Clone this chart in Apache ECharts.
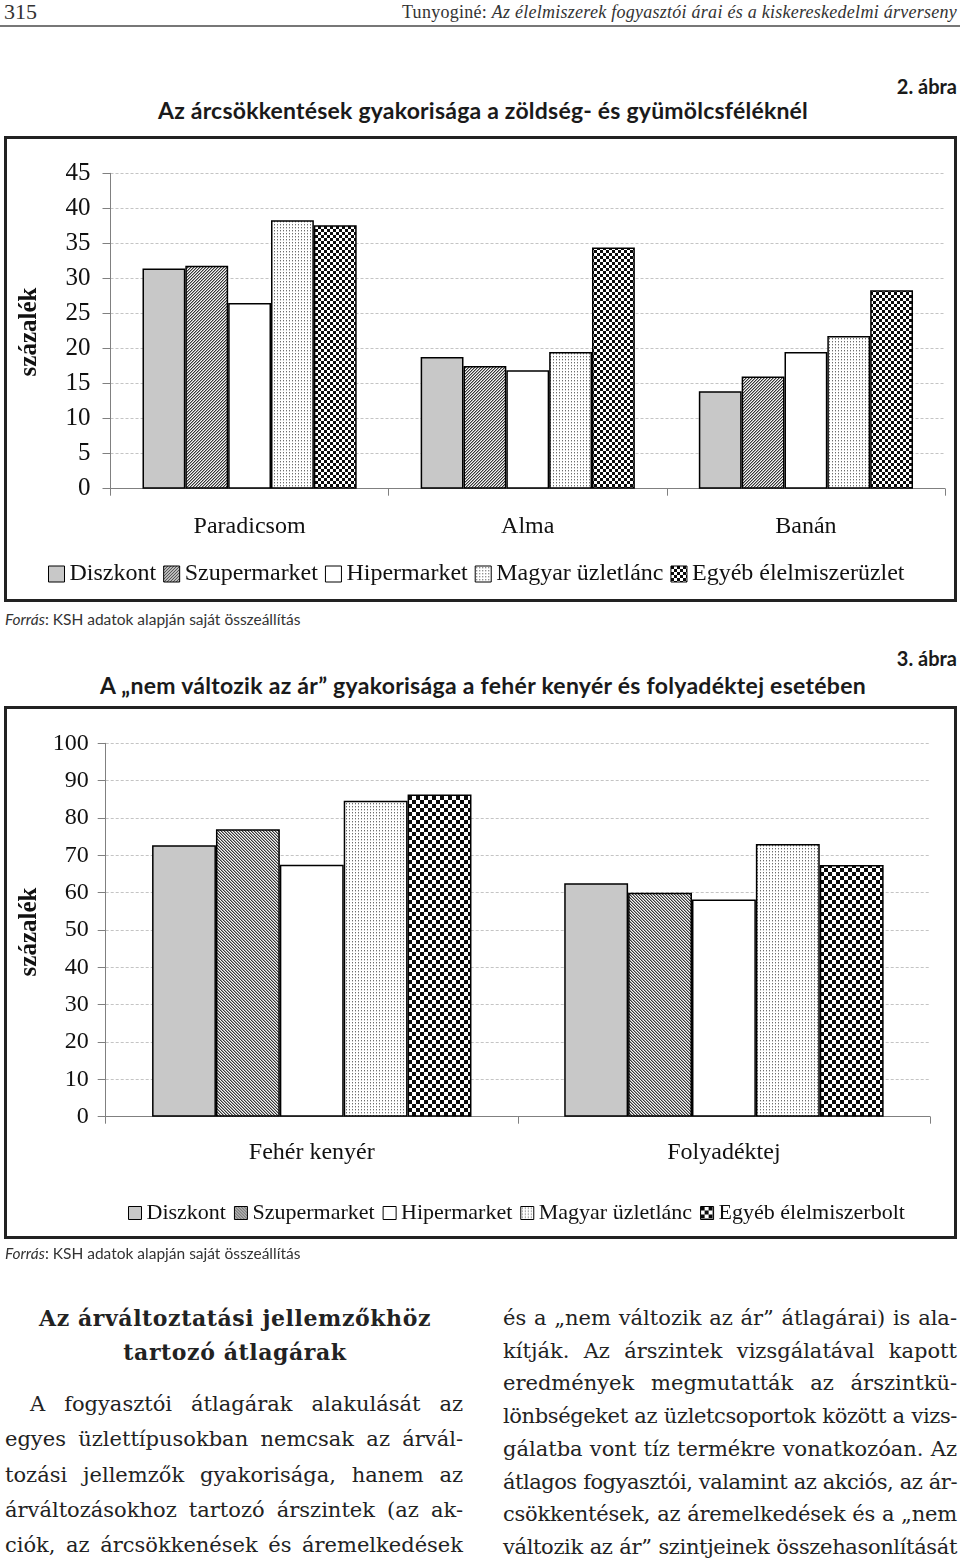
<!DOCTYPE html>
<html><head><meta charset="utf-8">
<script src="https://cdn.jsdelivr.net/npm/echarts@6/dist/echarts.min.js"></script>
<style>
html,body{margin:0;padding:0;background:#fff;}
body{width:960px;height:1563px;position:relative;overflow:hidden;}
.abs{position:absolute;white-space:nowrap;}
.ttl{font-family:Lato,'Open Sans',sans-serif;font-weight:bold;color:#1a1a1a;line-height:26px;}
.src{font-family:Lato,sans-serif;font-size:15.5px;color:#333;line-height:18px;}
.col{position:absolute;font-family:'DejaVu Serif',serif;color:#222;}
.col div{white-space:nowrap;text-align:justify;text-align-last:justify;}
.col div.c{text-align:center;text-align-last:center;}
</style></head><body>

<div class="abs" style="left:4px;top:0;font:22px 'Liberation Serif',serif;color:#333;line-height:24px">315</div>
<div class="abs fit" data-w="555" style="right:3px;top:1px;font:18px 'Liberation Serif',serif;color:#333;line-height:22px">Tunyoginé: <i>Az élelmiszerek fogyasztói árai és a kiskereskedelmi árverseny</i></div>
<div style="position:absolute;left:0;top:25px;width:960px;height:2px;background:#777"></div>

<div class="abs ttl" style="right:3px;top:73px;font-size:20px">2. ábra</div>
<div class="abs ttl" style="left:0;width:966px;text-align:center;top:97px;font-size:23px"><span class="fit" data-w="650">Az árcsökkentések gyakorisága a zöldség- és gyümölcsféléknél</span></div>

<div id="c1" style="position:absolute;left:0;top:130px;width:960px;height:480px"></div>
<div class="abs src" style="left:5px;top:610px"><i>Forrás</i>: KSH adatok alapján saját összeállítás</div>

<div class="abs ttl" style="right:3px;top:645px;font-size:20px">3. ábra</div>
<div class="abs ttl" style="left:0;width:966px;text-align:center;top:672px;font-size:23px"><span class="fit" data-w="766">A „nem változik az ár” gyakorisága a fehér kenyér és folyadéktej esetében</span></div>

<div id="c2" style="position:absolute;left:0;top:700px;width:960px;height:545px"></div>
<div class="abs src" style="left:5px;top:1244px"><i>Forrás</i>: KSH adatok alapján saját összeállítás</div>

<div class="col" style="left:5px;top:1301px;width:460px;font-size:22px;font-weight:bold;line-height:34px">
<div class="c"><span class="fit" data-w="392" id="h1">Az árváltoztatási jellemzőkhöz</span></div>
<div class="c"><span id="h2">tartozó átlagárak</span></div>
</div>
<div class="col body" style="left:5px;top:1387px;width:458px;font-size:21px;line-height:35.25px">
<div style="padding-left:25px" data-ind="25">A fogyasztói átlagárak alakulását az</div>
<div>egyes üzlettípusokban nemcsak az árvál-</div>
<div>tozási jellemzők gyakorisága, hanem az</div>
<div>árváltozásokhoz tartozó árszintek (az ak-</div>
<div>ciók, az árcsökkenések és áremelkedések</div>
</div>
<div class="col body" style="left:503px;top:1302px;width:454px;font-size:21px;line-height:32.7px">
<div>és a „nem változik az ár” átlagárai) is ala-</div>
<div>kítják. Az árszintek vizsgálatával kapott</div>
<div>eredmények megmutatták az árszintkü-</div>
<div>lönbségeket az üzletcsoportok között a vizs-</div>
<div>gálatba vont tíz termékre vonatkozóan. Az</div>
<div>átlagos fogyasztói, valamint az akciós, az ár-</div>
<div>csökkentések, az áremelkedések és a „nem</div>
<div>változik az ár” szintjeinek összehasonlítását</div>
</div>

<script>
// ---------- Data: figure 2 ----------
const cats1 = ['Paradicsom', 'Alma', 'Banán'];
const names1 = ['Diszkont', 'Szupermarket', 'Hipermarket', 'Magyar üzletlánc', 'Egyéb élelmiszerüzlet'];
const diszkont1 = [31.4, 18.8, 13.9];
const szuper1 = [31.8, 17.5, 16.0];
const hiper1 = [26.5, 16.9, 19.5];
const magyar1 = [38.3, 19.5, 21.8];
const egyeb1 = [37.6, 34.4, 28.3];
const yMax1 = 45, yStep1 = 5;

// ---------- Data: figure 3 ----------
const cats2 = ['Fehér kenyér', 'Folyadéktej'];
const names2 = ['Diszkont', 'Szupermarket', 'Hipermarket', 'Magyar üzletlánc', 'Egyéb élelmiszerbolt'];
const diszkont2 = [72.7, 62.5];
const szuper2 = [77.0, 60.0];
const hiper2 = [67.5, 58.2];
const magyar2 = [84.6, 73.0];
const egyeb2 = [86.3, 67.4];
const yMax2 = 100, yStep2 = 10;

const yName = 'százalék';

// ---------- text fitting (letter-spacing only) ----------
const mctx = document.createElement('canvas').getContext('2d');
function cssFont(el) {
  const cs = getComputedStyle(el);
  return cs.fontStyle + ' ' + cs.fontWeight + ' ' + cs.fontSize + ' ' + cs.fontFamily;
}
document.querySelectorAll('.fit').forEach(el => {
  el.style.display = 'inline-block';
  const w = el.getBoundingClientRect().width;
  const target = +el.dataset.w;
  const ls = (target - w) / el.textContent.length;
  el.style.letterSpacing = ls + 'px';
  if (el.id === 'h1') document.getElementById('h2').style.letterSpacing = ls + 'px';
});
document.querySelectorAll('.body > div').forEach(el => {
  mctx.font = cssFont(el);
  const avail = el.parentNode.getBoundingClientRect().width - (+(el.dataset.ind || 0));
  const w = mctx.measureText(el.textContent).width;
  if (w > avail - 2) el.style.letterSpacing = ((avail - 2 - w) / el.textContent.length) + 'px';
});

// ---------- patterns ----------
function pat(w, h, fn) {
  const c = document.createElement('canvas');
  c.width = w; c.height = h;
  const ctx = c.getContext('2d');
  const img = ctx.createImageData(w, h);
  for (let y = 0; y < h; y++) for (let x = 0; x < w; x++) {
    const v = fn(x, y), i = (y * w + x) * 4;
    img.data[i] = v; img.data[i + 1] = v; img.data[i + 2] = v; img.data[i + 3] = 255;
  }
  ctx.putImageData(img, 0, 0);
  return { image: c, repeat: 'repeat' };
}
const hatchFwd = pat(3, 3, (x, y) => [55, 160, 245][(x + y) % 3]);
const hatchBack = pat(3, 3, (x, y) => [55, 160, 245][(x - y + 30) % 3]);
const dots = pat(3, 3, (x, y) => (x === 1 && y === 1) ? 110 : (x === 1 && y === 2 ? 200 : 255));
const check3 = pat(6, 6, (x, y) => ((Math.floor(x / 3) + Math.floor(y / 3)) % 2 === 0) ? 10 : 255);
const check4 = pat(8, 8, (x, y) => ((Math.floor(x / 4) + Math.floor(y / 4)) % 2 === 0) ? 10 : 255);

const SERIF = "'Liberation Serif', 'Times New Roman', serif";

function makeOption(cfg) {
  const series = cfg.names.map((n, i) => ({
    name: n, type: 'bar', data: cfg.values[i],
    barGap: '0%', barCategoryGap: cfg.gap,
    itemStyle: { color: cfg.fills[i], borderColor: '#000', borderWidth: 1.5 },
    emphasis: { disabled: true }
  }));
  return {
    animation: false,
    backgroundColor: 'transparent',
    grid: cfg.grid,
    legend: {
      data: cfg.names, left: cfg.legendLeft, top: cfg.legendTop, padding: 0,
      icon: 'rect', itemWidth: cfg.icon, itemHeight: cfg.icon, itemGap: cfg.legendGap,
      textStyle: { fontFamily: SERIF, fontSize: cfg.legendFont, color: '#111' },
      itemStyle: { borderColor: '#000', borderWidth: 1 },
      selectedMode: false
    },
    xAxis: {
      type: 'category', data: cfg.cats,
      axisLine: { lineStyle: { color: '#808080', width: 1 } },
      axisTick: { show: true, length: 7, lineStyle: { color: '#808080' } },
      axisLabel: { fontFamily: SERIF, fontSize: 24, color: '#111', margin: cfg.catMargin }
    },
    yAxis: {
      type: 'value', min: 0, max: cfg.yMax, interval: cfg.yStep,
      axisLine: { show: true, lineStyle: { color: '#808080', width: 1 } },
      axisTick: { show: true, length: 8, lineStyle: { color: '#808080' } },
      axisLabel: { fontFamily: SERIF, fontSize: cfg.yFont, color: '#111', margin: cfg.yMargin },
      splitLine: { show: true, lineStyle: { color: '#c4c4c4', type: [3, 2], width: 1 } }
    },
    graphic: [
      { type: 'rect', silent: true, z: 100, shape: cfg.border, style: { fill: null, stroke: '#222', lineWidth: 3 } },
      { type: 'text', silent: true, x: 30, y: cfg.yNameY, rotation: Math.PI / 2,
        style: { text: yName, font: "bold 25px " + SERIF, fill: '#111', align: 'center', verticalAlign: 'middle' } }
    ],
    series
  };
}

const ch1 = echarts.init(document.getElementById('c1'), null, { renderer: 'canvas' });
ch1.setOption(makeOption({
  cats: cats1, names: names1,
  values: [diszkont1, szuper1, hiper1, magyar1, egyeb1],
  fills: ['#c8c8c8', hatchFwd, '#ffffff', dots, check3],
  gap: '23%',
  grid: { left: 110.5, right: 15, top: 43.3, bottom: 121.3, containLabel: false },
  legendLeft: 48, legendTop: 432, icon: 16, legendGap: 7, legendFont: 24,
  catMargin: 26, yMax: yMax1, yStep: yStep1, yMargin: 20, yFont: 25,
  border: { x: 5.5, y: 7.5, width: 950, height: 463 },
  yNameY: 202
}));

const ch2 = echarts.init(document.getElementById('c2'), null, { renderer: 'canvas' });
ch2.setOption(makeOption({
  cats: cats2, names: names2,
  values: [diszkont2, szuper2, hiper2, magyar2, egyeb2],
  fills: ['#c8c8c8', hatchBack, '#ffffff', dots, check4],
  gap: '22.5%',
  grid: { left: 105.7, right: 30, top: 43.3, bottom: 128.3, containLabel: false },
  legendLeft: 128, legendTop: 502, icon: 13, legendGap: 8, legendFont: 22,
  catMargin: 24, yMax: yMax2, yStep: yStep2, yMargin: 17, yFont: 24,
  border: { x: 5.5, y: 7.5, width: 950, height: 530 },
  yNameY: 232
}));
</script>
</body></html>
